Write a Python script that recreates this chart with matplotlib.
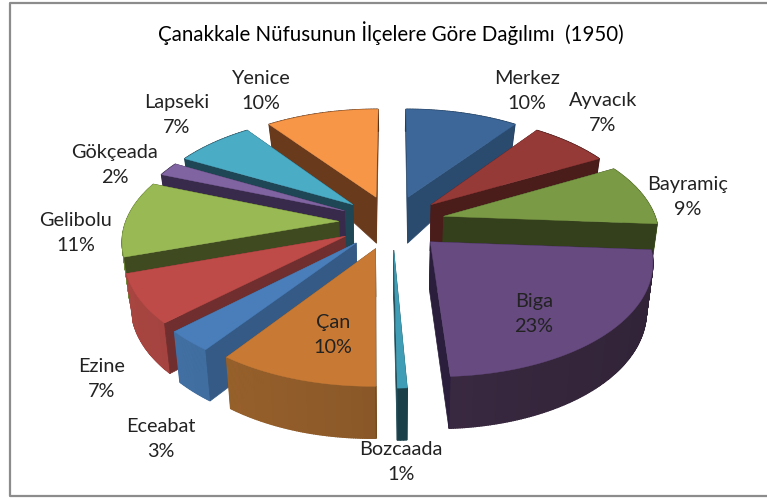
# plot.py
import numpy as np
import matplotlib
matplotlib.use("Agg")
import matplotlib.pyplot as plt

TITLE = "Çanakkale Nüfusunun İlçelere Göre Dağılımı  (1950)"
districts = ["Merkez", "Ayvacık", "Bayramiç", "Biga", "Bozcaada", "Çan",
             "Eceabat", "Ezine", "Gelibolu", "Gökçeada", "Lapseki", "Yenice"]
percent_labels = [10, 7, 9, 23, 1, 10, 3, 7, 11, 2, 7, 10]
# slice sizes, Bozcaada is thinner than its rounded 1%
shares = [10, 7, 9, 23, 0.6, 10, 3, 7, 11, 2, 7, 10]

top_colors = ["#3c6798", "#963a38", "#7a9a45", "#664a80", "#3f9db5", "#c87a35",
              "#4a7ebb", "#be4b48", "#98b954", "#8064a2", "#4bacc6", "#f79646"]
cut_colors = ["#2a4a6e", "#4a1c1a", "#343f1c", "#2b1e3c", "#1f4b57", "#744a20",
              "#345a85", "#702f2e", "#3f4a21", "#382a4a", "#1e4654", "#693a1c"]
rim_colors = ["#2a4a6e", "#4a1c1a", "#7a9a45", "#46324f", "#1f4b57", "#a0662e",
              "#4473a8", "#a84541", "#6f8a3a", "#382a4a", "#1e4654", "#693a1c"]
label_pos = [(527, 91), (603, 113), (688, 197), (534, 314), (401, 462), (333, 335),
             (161, 439), (102, 379), (76, 233), (115, 165), (177, 115), (261, 91)]

# projection of the tilted pie, in pixels of the 767x499 picture
CX, CY = 392, 222
SX, SY, PERSP = 213, 108, 0.15
EXPLODE = 0.25
BOTTOM_SHRINK = 0.975


def project(x, y):
    w = 1 + PERSP * y
    return CX + SX * x / w, CY - SY * y / w


def depth(y):
    return np.interp(y, [-1.2, 0.24, 1.1], [52, 46, 22])


def lower(px):
    # the floor of the pie is seen a little narrower than its top
    return CX + (px - CX) * BOTTOM_SHRINK


def slice_outline(start, end):
    mid = np.radians((start + end) / 2)
    ax0, ay0 = EXPLODE * np.sin(mid), EXPLODE * np.cos(mid)
    ang = np.radians(np.linspace(start, end, max(int(end - start) * 2, 4)))
    return ax0, ay0, ax0 + np.sin(ang), ay0 + np.cos(ang)


def draw_slice(ax, start, end, top, cut, rim):
    ax0, ay0, xs, ys = slice_outline(start, end)
    px0, py0 = project(ax0, ay0)
    d0 = depth(ay0)
    px, py = project(xs, ys)
    ds = depth(ys)
    bx = lower(px)

    def cut_face(i):
        ax.fill([px0, px[i], bx[i], lower(px0)], [py0, py[i], py[i] + ds[i], py0 + d0],
                color=cut, lw=0.5, zorder=1)

    # right half shows its end face, left half its start face
    front, back = (-1, 0) if (start + end) / 2 < 180 else (0, -1)
    cut_face(back)
    # outer wall, darker towards the right
    for i in range(len(px) - 1):
        shade = 1 - 0.3 * (px[i] - 120) / 540
        col = np.clip(np.array(matplotlib.colors.to_rgb(rim)) * shade, 0, 1)
        ax.fill([px[i], px[i + 1], bx[i + 1], bx[i]],
                [py[i], py[i + 1], py[i + 1] + ds[i + 1], py[i] + ds[i]],
                color=col, lw=1.0, zorder=1)
    cut_face(front)
    ax.fill(np.r_[px0, px], np.r_[py0, py], color=top, lw=0.3, zorder=1)


fig = plt.figure(figsize=(7.67, 4.99), dpi=100)
ax = fig.add_axes([0, 0, 1, 1])
ax.set_xlim(0, 767)
ax.set_ylim(499, 0)
ax.axis("off")

# outer frame of the chart, open on the right
ax.plot([767, 10, 10, 767], [2.5, 2.5, 496, 496], color="#8c8c8c", lw=1.6)

edges = np.cumsum([0] + shares) * 360 / sum(shares)
mids = (edges[:-1] + edges[1:]) / 2
# back slices first, front slices on top of them
for i in np.argsort(-np.cos(np.radians(mids))):
    draw_slice(ax, edges[i], edges[i + 1], top_colors[i], cut_colors[i], rim_colors[i])

for name, pct, (lx, ly) in zip(districts, percent_labels, label_pos):
    ax.text(lx, ly, f"{name}\n{pct}%", ha="center", va="center", family="Lato",
            fontsize=14.3, color="#222222", linespacing=1.55, zorder=5)

ax.text(391, 33, TITLE, ha="center", va="center", family="Lato", fontsize=14.8,
        color="black", zorder=5)

fig.savefig("out.png", dpi=100)
